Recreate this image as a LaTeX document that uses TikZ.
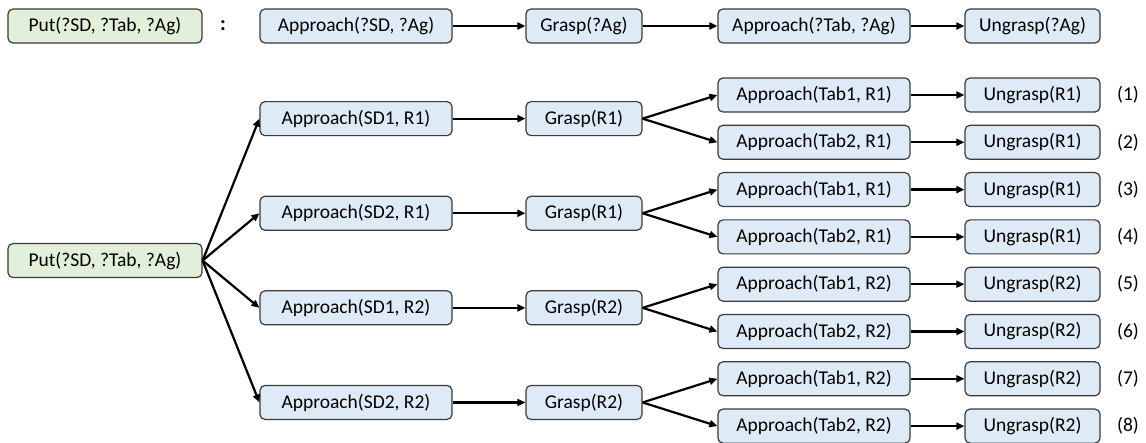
\documentclass[tikz,border=0pt]{standalone}
\usepackage{fontspec}
\setmainfont{Carlito}
\usetikzlibrary{arrows.meta}
\definecolor{actfill}{HTML}{DEEBF7}
\definecolor{taskfill}{HTML}{E2F0D9}
\definecolor{boxline}{HTML}{3A3A3A}
\tikzset{
  box/.style={draw=boxline, line width=1.2pt, rounded corners=5pt, fill=actfill,
    minimum height=34pt, inner sep=0pt, text=black, font=\fontsize{19.5}{23}\selectfont},
  taskbox/.style={box, fill=taskfill},
  wput/.style={minimum width=194pt},
  wapp/.style={minimum width=192pt},
  wgrasp/.style={minimum width=116pt},
  wungrasp/.style={minimum width=135pt},
  flow/.style={line width=2.2pt, -{Triangle[length=8pt,width=7pt]}},
  idx/.style={font=\fontsize{19.5}{23}\selectfont, text=black},
}
\begin{document}
\begin{tikzpicture}[x=1pt,y=-1pt]
\useasboundingbox (0,0) rectangle (1146,443);

% method schema
\node[taskbox, wput] (put0) at (105,26) {Put(?SD, ?Tab, ?Ag)};
\node[font=\bfseries\fontsize{21}{24}\selectfont] (colon) at (223,26) {:};
\node[box, wapp] (s1) at (356,26) {Approach(?SD, ?Ag)};
\node[box, wgrasp] (s2) at (584,26) {Grasp(?Ag)};
\node[box, wapp] (s3) at (814,26) {Approach(?Tab, ?Ag)};
\node[box, wungrasp] (s4) at (1032.5,26) {Ungrasp(?Ag)};
\draw[flow] (s1) -- (s2);
\draw[flow] (s2) -- (s3);
\draw[flow] (s3) -- (s4);

% expansion tree
\node[taskbox, wput] (put) at (105,260.55) {Put(?SD, ?Tab, ?Ag)};
\foreach \i/\sd/\r in {1/1/1, 2/2/1, 3/1/2, 4/2/2} {
  \pgfmathsetmacro{\yc}{118.65+94.6*(\i-1)}
  \node[box, wapp] (a\i) at (356,\yc) {Approach(SD\sd, R\r)};
  \node[box, wgrasp] (g\i) at (584,\yc) {Grasp(R\r)};
  \draw[flow] (put.east) -- (a\i.west);
  \draw[flow] (a\i) -- (g\i);
  \foreach \j in {1,2} {
    \pgfmathsetmacro{\yr}{\yc+47.3*(\j-1.5)}
    \pgfmathtruncatemacro{\n}{2*(\i-1)+\j}
    \node[box, wapp] (t\i\j) at (814,\yr) {Approach(Tab\j, R\r)};
    \node[box, wungrasp] (u\i\j) at (1032.5,\yr) {Ungrasp(R\r)};
    \node[idx] (n\i\j) at (1128,\yr) {(\n)};
    \draw[flow] (g\i.east) -- (t\i\j.west);
    \draw[flow] (t\i\j) -- (u\i\j);
  }
}
\end{tikzpicture}
\end{document}
